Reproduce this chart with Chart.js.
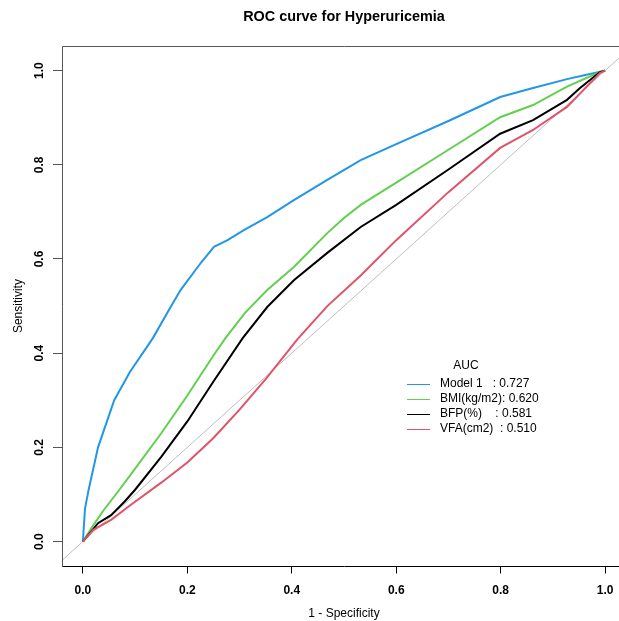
<!DOCTYPE html>
<html>
<head>
<meta charset="utf-8">
<script src="https://cdn.jsdelivr.net/npm/chart.js@4/dist/chart.umd.min.js"></script>
<style>
  html, body { margin: 0; padding: 0; background: #fff; overflow: hidden; width: 619px; height: 621px; }
  #wrap { width: 619px; height: 621px; overflow: hidden; position: relative; }
  canvas { display: block; }
</style>
</head>
<body>
<div id="wrap"><canvas id="c" width="688" height="621"></canvas></div>
<script>
// ---- data ----
const chartTitle = 'ROC curve for Hyperuricemia';
const xTitle = '1 - Specificity';
const yTitle = 'Sensitivity';
const tickValues = [0, 0.2, 0.4, 0.6, 0.8, 1.0];

const seriesNames = ['Model 1', 'BMI(kg/m2)', 'BFP(%)', 'VFA(cm2)'];
const aucValues = [0.727, 0.620, 0.581, 0.510];
const legendLabels = ['Model 1   : 0.727', 'BMI(kg/m2): 0.620', 'BFP(%)    : 0.581', 'VFA(cm2)  : 0.510'];
const legendHeader = 'AUC';

const fprModel = [0, 0.004, 0.011, 0.029, 0.06, 0.09, 0.134, 0.168, 0.187, 0.226, 0.251, 0.277, 0.309, 0.353, 0.404, 0.468, 0.532, 0.6, 0.7, 0.799, 0.862, 0.927, 0.96, 1];
const tprModel = [0, 0.07, 0.11, 0.2, 0.3, 0.36, 0.432, 0.498, 0.534, 0.592, 0.626, 0.640, 0.662, 0.689, 0.725, 0.768, 0.810, 0.844, 0.893, 0.944, 0.963, 0.982, 0.99, 1];

const fprBMI = [0, 0.02, 0.04, 0.07, 0.1, 0.15, 0.2, 0.25, 0.273, 0.31, 0.353, 0.404, 0.468, 0.5, 0.532, 0.6, 0.7, 0.799, 0.862, 0.927, 0.99, 1];
const tprBMI = [0, 0.035, 0.067, 0.11, 0.155, 0.23, 0.31, 0.395, 0.432, 0.485, 0.534, 0.583, 0.655, 0.687, 0.715, 0.762, 0.832, 0.901, 0.927, 0.966, 0.997, 1];

const fprBFP = [0, 0.029, 0.054, 0.08, 0.1, 0.15, 0.2, 0.25, 0.306, 0.353, 0.404, 0.468, 0.532, 0.6, 0.7, 0.799, 0.862, 0.927, 0.952, 0.99, 1];
const tprBFP = [0, 0.039, 0.056, 0.085, 0.11, 0.18, 0.255, 0.34, 0.432, 0.498, 0.555, 0.613, 0.668, 0.715, 0.79, 0.866, 0.895, 0.938, 0.963, 0.997, 1];

const fprVFA = [0, 0.02, 0.054, 0.092, 0.15, 0.2, 0.25, 0.3, 0.35, 0.411, 0.468, 0.532, 0.6, 0.7, 0.799, 0.862, 0.927, 0.99, 1];
const tprVFA = [0, 0.025, 0.046, 0.078, 0.125, 0.168, 0.22, 0.28, 0.345, 0.43, 0.5, 0.565, 0.64, 0.742, 0.836, 0.874, 0.923, 0.995, 1];

const refX = [-0.1, 1.1];
const refY = [-0.1, 1.1];

// ---- styling ----
const colors = ['#2297E6', '#61D04F', '#000000', '#DF536B'];
const FONT = 'Arial, "Liberation Sans", Helvetica, sans-serif';

const zip = (xs, ys) => xs.map((x, i) => ({ x: x, y: ys[i] }));
const fprs = [fprModel, fprBMI, fprBFP, fprVFA];
const tprs = [tprModel, tprBMI, tprBFP, tprVFA];

const datasets = [{
  label: 'reference',
  data: zip(refX, refY),
  borderColor: '#BEBEBE',
  borderWidth: 1,
  pointRadius: 0,
  order: 10
}];
seriesNames.forEach((n, i) => {
  datasets.push({
    label: n,
    data: zip(fprs[i], tprs[i]),
    borderColor: colors[i],
    borderWidth: 2,
    pointRadius: 0,
    tension: 0,
    order: 5 - i
  });
});

const boxPlugin = {
  id: 'box',
  afterDraw(chart) {
    const { ctx, chartArea: a } = chart;
    ctx.save();
    ctx.lineWidth = 1;
    ctx.strokeStyle = '#555';
    ctx.beginPath();
    ctx.moveTo(Math.round(a.left) + 0.5, Math.round(a.bottom) + 0.5);
    ctx.lineTo(Math.round(a.left) + 0.5, Math.round(a.top) + 0.5);
    ctx.lineTo(Math.round(a.right) + 0.5, Math.round(a.top) + 0.5);
    ctx.stroke();
    ctx.strokeStyle = '#000';
    ctx.beginPath();
    ctx.moveTo(Math.round(a.left) + 0.5, Math.round(a.bottom) + 0.5);
    ctx.lineTo(Math.round(a.right) + 0.5, Math.round(a.bottom) + 0.5);
    ctx.stroke();
    ctx.restore();
  }
};

const legendPlugin = {
  id: 'aucLegend',
  afterDraw(chart) {
    const { ctx, chartArea: a } = chart;
    const x0 = a.left + 345;   // legend line start
    const y0 = a.top + 338;    // first row centre
    ctx.save();
    ctx.font = '12px ' + FONT;
    ctx.fillStyle = '#000';
    ctx.textBaseline = 'middle';
    ctx.textAlign = 'center';
    ctx.fillText(legendHeader, x0 + 59, y0 - 18);
    ctx.textAlign = 'left';
    legendLabels.forEach((lab, i) => {
      const y = y0 + i * 15;
      ctx.strokeStyle = colors[i];
      ctx.lineWidth = 1;
      ctx.beginPath();
      ctx.moveTo(x0, Math.round(y) + 0.5);
      ctx.lineTo(x0 + 23, Math.round(y) + 0.5);
      ctx.stroke();
      ctx.fillText(lab, x0 + 33, y);
    });
    ctx.restore();
  }
};

new Chart(document.getElementById('c'), {
  type: 'line',
  data: { datasets: datasets },
  plugins: [boxPlugin, legendPlugin],
  options: {
    responsive: false,
    animation: false,
    devicePixelRatio: 1,
    layout: { padding: 0 },
    plugins: {
      legend: { display: false },
      tooltip: { enabled: false },
      title: {
        display: true,
        text: chartTitle,
        color: '#000',
        font: { family: FONT, size: 14.4, weight: 'bold', lineHeight: 1.2 },
        padding: { top: 8.7, bottom: 19.7 }
      }
    },
    scales: {
      x: {
        type: 'linear',
        min: -0.04,
        max: 1.04,
        afterFit(s) { s.height = 54.5; },
        afterBuildTicks(s) { s.ticks = tickValues.map(v => ({ value: v })); },
        border: { display: false },
        grid: { drawOnChartArea: false, drawTicks: true, tickLength: 7, color: '#000', lineWidth: 1 },
        ticks: {
          color: '#000',
          padding: 9.5,
          maxRotation: 0,
          autoSkip: false,
          font: { family: FONT, size: 12, weight: 'bold' },
          callback: v => Number(v).toFixed(1)
        },
        title: {
          display: true,
          text: xTitle,
          color: '#000',
          font: { family: FONT, size: 12 },
          padding: { top: 0, bottom: 0.5 }
        }
      },
      y: {
        type: 'linear',
        min: -0.053,
        max: 1.053,
        afterFit(s) { s.width = 62; },
        afterBuildTicks(s) { s.ticks = tickValues.map(v => ({ value: v })); },
        border: { display: false },
        grid: { drawOnChartArea: false, drawTicks: true, tickLength: 9, color: '#555', lineWidth: 1 },
        ticks: {
          color: '#000',
          padding: 5,
          minRotation: 90,
          maxRotation: 90,
          crossAlign: 'center',
          autoSkip: false,
          font: { family: FONT, size: 12, weight: 'bold' },
          callback: v => Number(v).toFixed(1)
        },
        title: {
          display: true,
          text: yTitle,
          color: '#000',
          font: { family: FONT, size: 12 },
          padding: { top: 11, bottom: 0 }
        }
      },
      yRight: {
        type: 'linear',
        position: 'right',
        min: 0,
        max: 1,
        afterFit(s) { s.width = 62; },
        border: { display: false },
        grid: { display: false },
        ticks: { display: false },
        title: { display: false }
      }
    }
  }
});
</script>
</body>
</html>
